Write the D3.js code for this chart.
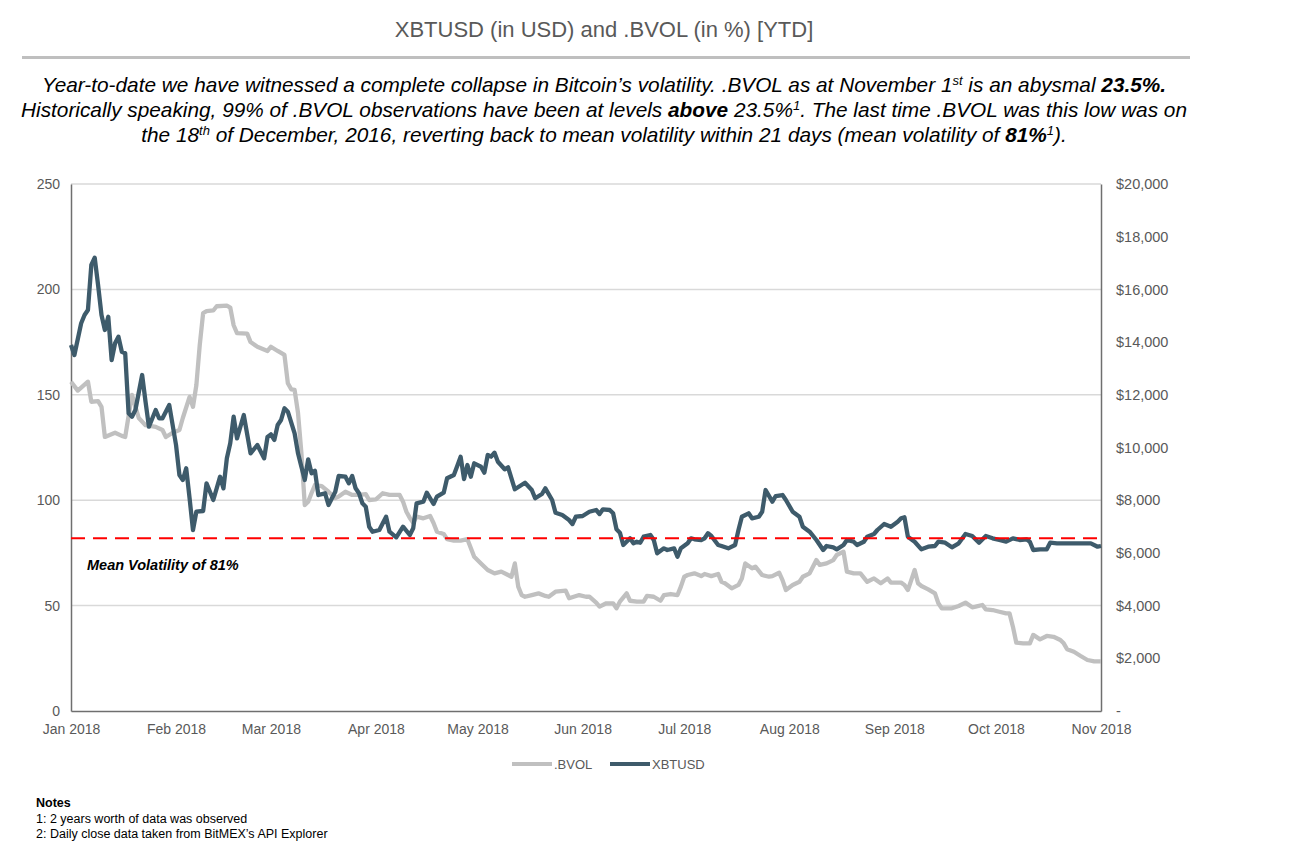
<!DOCTYPE html>
<html>
<head>
<meta charset="utf-8">
<script src="https://cdn.jsdelivr.net/npm/d3@7/dist/d3.min.js"></script>
<style>
  html, body { margin: 0; padding: 0; background: #ffffff; }
  svg { display: block; font-family: "Liberation Sans", Arial, sans-serif; }
</style>
</head>
<body>
<svg id="chart" width="1306" height="856"></svg>
<script>
// ---------------- DATA ----------------
const monthTicks = ["01-01","02-01","03-01","04-01","05-01","06-01","07-01","08-01","09-01","10-01","11-01"];
const leftTicks = [0, 50, 100, 150, 200, 250];
const rightTicks = [0, 2000, 4000, 6000, 8000, 10000, 12000, 14000, 16000, 18000, 20000];
const meanVolLevel = 82;

const bvolDates = ["01-01","01-03","01-06","01-07","01-09","01-10","01-11","01-14","01-16","01-17","01-19","01-21","01-23","01-26","01-28","01-29","01-31",
  "02-02","02-03","02-05","02-06","02-07","02-08","02-09","02-10","02-12","02-13","02-16","02-17","02-18","02-19","02-22","02-23","02-25","02-28",
  "03-01","03-03","03-05","03-06","03-07","03-08","03-09","03-10","03-11","03-12","03-13","03-14","03-16","03-18","03-20","03-21","03-23","03-25","03-27","03-29","03-30",
  "04-01","04-03","04-05","04-08","04-09","04-10","04-11","04-12","04-13","04-15","04-17","04-18","04-19","04-21","04-22","04-24","04-26","04-28","04-30",
  "05-02","05-04","05-06","05-08","05-10","05-11","05-12","05-13","05-14","05-15","05-17","05-19","05-21","05-22","05-24","05-27","05-28","05-31",
  "06-02","06-03","06-05","06-06","06-08","06-10","06-11","06-12","06-14","06-15","06-17","06-19","06-20","06-22","06-24","06-25","06-27","06-29","06-30",
  "07-01","07-02","07-04","07-06","07-07","07-09","07-11","07-12","07-13","07-15","07-17","07-18","07-19","07-21","07-22","07-24","07-26","07-27","07-29","07-30","07-31",
  "08-02","08-04","08-05","08-07","08-09","08-10","08-12","08-14","08-15","08-17","08-18","08-20","08-22","08-24","08-26","08-28","08-30","08-31",
  "09-03","09-04","09-05","09-06","09-07","09-08","09-09","09-11","09-13","09-14","09-15","09-18","09-20","09-22","09-24","09-25","09-27","09-28","09-30",
  "10-02","10-04","10-05","10-06","10-07","10-09","10-11","10-12","10-14","10-16","10-18","10-20","10-21","10-22","10-24","10-26","10-28","10-30","11-01"];
const bvolValues = [156.2,152,156.2,146.7,147,144.3,130,132,130.5,130,150,139,135.6,134.8,133.3,130,132,
  133.3,139,149,144.3,154.6,173.6,188.8,189.7,190,192,192.3,191.4,183,179.3,179,175,172.8,170.8,
  172.8,170.8,168.9,155.5,152.6,152.3,141.4,122.4,97.7,99.3,103.4,107.2,106.7,104,101,101.7,104,102.5,102.5,102.9,100.1,
  100.4,103.3,102.5,102.5,99.3,94.5,91.6,89.3,92.2,91.4,92.5,89.2,85,84,81.5,80.8,80.8,81.5,73.2,
  70,66.9,65.3,66.1,64.5,63.7,70,59,55,54.2,55,55.8,54.6,54.2,56.6,57.1,53.5,55,
  54.2,54.2,51.4,49.5,51.1,51.1,48.7,51.9,55.8,52.3,51.9,51.9,54.6,54.2,52.3,55,55.5,55,59,
  63.7,64.5,65.3,64,65,64,65,61.3,60.6,58.2,59.8,62.9,70,67.7,68.5,64.5,63.7,64,65.6,62.1,57.4,
  59.8,61.3,63.7,65.3,71.6,69.3,70,71.6,74,75.6,66.1,65.3,65.3,61.3,62.9,60.6,62.9,60.9,
  60.9,59.8,57.4,62.1,66.9,60.6,59.3,57.7,55.8,51.1,48.7,48.7,49.8,51.4,49.2,49.5,50.3,48.2,47.9,
  47.1,46.3,46.3,40,32.4,32.1,32.1,36.1,34,35.6,35.2,33.7,32.1,29.3,28.1,26.1,24.2,23.5,23.5];

const xbtDates = ["01-01","01-02","01-04","01-05","01-06","01-07","01-08","01-09","01-10","01-11","01-12","01-13","01-14","01-15","01-16","01-17","01-18","01-19","01-20","01-22","01-23","01-24","01-26","01-27","01-28","01-30",
  "02-01","02-02","02-03","02-04","02-05","02-06","02-07","02-09","02-10","02-12","02-14","02-15","02-16","02-17","02-18","02-19","02-21","02-23","02-25","02-27","02-28",
  "03-01","03-02","03-03","03-04","03-05","03-06","03-08","03-09","03-10","03-11","03-12","03-13","03-14","03-15","03-17","03-18","03-20","03-21","03-23","03-24","03-25","03-26","03-27","03-28","03-29","03-30","03-31",
  "04-02","04-04","04-05","04-07","04-09","04-11","04-12","04-13","04-15","04-16","04-18","04-19","04-21","04-22","04-24","04-25","04-26","04-27","04-28","04-29","04-30",
  "05-02","05-03","05-04","05-05","05-06","05-07","05-09","05-10","05-12","05-15","05-17","05-18","05-20","05-21","05-23","05-24","05-26","05-28","05-29","05-30",
  "06-01","06-03","06-05","06-06","06-07","06-09","06-10","06-11","06-12","06-13","06-15","06-16","06-17","06-18","06-19","06-21","06-22","06-23","06-25","06-26","06-28","06-29","06-30",
  "07-02","07-03","07-04","07-06","07-07","07-08","07-09","07-11","07-12","07-14","07-16","07-17","07-18","07-20","07-21","07-23","07-24","07-25","07-27","07-28","07-30","07-31",
  "08-02","08-04","08-05","08-07","08-09","08-11","08-12","08-14","08-15","08-17","08-18","08-20","08-21","08-23","08-24","08-26","08-27","08-29","08-31",
  "09-02","09-03","09-04","09-05","09-07","09-09","09-11","09-13","09-14","09-16","09-18","09-20","09-22","09-24","09-26","09-28","09-30",
  "10-02","10-04","10-06","10-08","10-10","10-11","10-12","10-14","10-16","10-17","10-19","10-22","10-26","10-29","10-31","11-01"];
const xbtValues = [13890,13510,14713,15028,15218,16926,17203,16160,15030,14460,14963,13320,13954,14205,13635,13575,11298,11169,11423,12751,11738,10789,11423,11108,11108,11613,
  10095,8956,8767,9210,8072,6869,7563,7590,8641,8007,8892,8451,9590,10159,11169,10349,11233,9780,10095,9590,10400,
  10500,10285,10854,11044,11488,11359,10539,9780,9271,8766,9552,9021,9120,8197,8262,7818,8322,8918,8892,8641,8918,8451,8262,7882,7753,6994,6804,
  6869,7373,6804,6592,6994,6679,6933,7882,7943,8284,7856,8133,8284,8831,8956,9298,9650,8804,9336,8892,9400,
  9271,9044,9715,9651,9803,9461,9173,9248,8413,8664,8387,8072,8235,8451,8007,7525,7438,7248,7097,7373,
  7400,7563,7628,7476,7654,7628,7503,6896,6767,6300,6554,6364,6425,6387,6615,6679,6489,5985,6174,6110,6174,5856,6174,
  6364,6554,6516,6489,6554,6744,6641,6300,6262,6174,6300,6869,7373,7503,7313,7373,7563,8387,7943,8159,8197,8007,
  7563,7373,6994,6804,6489,6110,6262,6212,6136,6300,6489,6425,6300,6425,6615,6717,6869,7097,6994,
  7184,7313,7351,6615,6425,6136,6235,6262,6425,6387,6212,6364,6717,6641,6387,6641,6554,
  6489,6425,6554,6489,6516,6425,6110,6136,6136,6387,6364,6364,6364,6364,6235,6262];

// ---------------- CHART ----------------
const parse = d3.timeParse("%Y-%m-%d");
const toDate = s => parse("2018-" + s);
const svg = d3.select("#chart");

const pLeft = 71, pRight = 1101, pTop = 184, pBottom = 711;
const x = d3.scaleTime().domain([toDate("01-01"), toDate("11-01")]).range([pLeft, pRight]);
const yL = d3.scaleLinear().domain([0, 250]).range([pBottom, pTop]);
const yR = d3.scaleLinear().domain([0, 20000]).range([pBottom, pTop]);

// Title
svg.append("text").attr("x", 604).attr("y", 37).attr("text-anchor", "middle")
  .attr("font-size", 22).attr("fill", "#595959")
  .text("XBTUSD (in USD) and .BVOL (in %) [YTD]");
svg.append("line").attr("x1", 22).attr("x2", 1190).attr("y1", 57.5).attr("y2", 57.5)
  .attr("stroke", "#bfbfbf").attr("stroke-width", 3);

// Subtitle
const sub = svg.append("g").attr("font-size", 20.8).attr("font-style", "italic").attr("fill", "#000").attr("text-anchor", "middle");
function addLine(y, parts) {
  const t = sub.append("text").attr("x", 604).attr("y", y);
  parts.forEach(p => {
    const ts = t.append("tspan").text(p.t);
    if (p.b) ts.attr("font-weight", "bold");
    if (p.sup) ts.attr("font-size", 13).attr("baseline-shift", "super");
  });
}
addLine(92, [{t:"Year-to-date we have witnessed a complete collapse in Bitcoin\u2019s volatility. .BVOL as at November 1"},{t:"st",sup:true},{t:" is an abysmal "},{t:"23.5%.",b:true}]);
addLine(117, [{t:"Historically speaking, 99% of .BVOL observations have been at levels "},{t:"above",b:true},{t:" 23.5%"},{t:"1",sup:true},{t:". The last time .BVOL was this low was on"}]);
addLine(142, [{t:"the 18"},{t:"th",sup:true},{t:" of December, 2016, reverting back to mean volatility within 21 days (mean volatility of "},{t:"81%",b:true},{t:"1",sup:true},{t:")."}]);

// Gridlines
svg.append("g").selectAll("line").data(leftTicks.filter(d => d > 0)).join("line")
  .attr("x1", pLeft).attr("x2", pRight).attr("y1", d => yL(d)).attr("y2", d => yL(d))
  .attr("stroke", "#d9d9d9").attr("stroke-width", 1.5);

// Axes
const axL = svg.append("g").attr("transform", `translate(${pLeft},0)`)
  .call(d3.axisLeft(yL).tickValues(leftTicks).tickSize(0).tickPadding(11));
const axR = svg.append("g").attr("transform", `translate(${pRight},0)`)
  .call(d3.axisRight(yR).tickValues(rightTicks).tickSize(0).tickPadding(15)
    .tickFormat(d => d === 0 ? "-" : "$" + d3.format(",")(d)));
const axB = svg.append("g").attr("transform", `translate(0,${pBottom})`)
  .call(d3.axisBottom(x).tickValues(monthTicks.map(toDate)).tickSize(0).tickPadding(13)
    .tickFormat(d3.timeFormat("%b %Y")));
[axL, axR, axB].forEach(a => {
  a.selectAll("text").attr("font-size", 14).attr("fill", "#595959").attr("font-family", "Liberation Sans, Arial, sans-serif");
  a.select(".domain").attr("stroke", "#6f6f6f").attr("stroke-width", 1.5);
});
axR.selectAll("text").attr("font-size", 14.5);

// Lines
const bvolData = bvolDates.map((d, i) => ({date: toDate(d), v: bvolValues[i]}));
const xbtData = xbtDates.map((d, i) => ({date: toDate(d), v: xbtValues[i]}));
svg.append("path").datum(bvolData)
  .attr("fill", "none").attr("stroke", "#c0c0c0").attr("stroke-width", 4.3).attr("stroke-linejoin", "round")
  .attr("d", d3.line().x(d => x(d.date)).y(d => yL(d.v)));
svg.append("path").datum(xbtData)
  .attr("fill", "none").attr("stroke", "#3e5b6b").attr("stroke-width", 4.3).attr("stroke-linejoin", "round")
  .attr("d", d3.line().x(d => x(d.date)).y(d => yR(d.v)));

// Mean volatility line
svg.append("line").attr("x1", pLeft).attr("x2", pRight).attr("y1", yL(meanVolLevel)).attr("y2", yL(meanVolLevel))
  .attr("stroke", "#ff0000").attr("stroke-width", 2).attr("stroke-dasharray", "14,8");
svg.append("text").attr("x", 87).attr("y", 570).attr("font-size", 14.5).attr("font-weight", "bold").attr("font-style", "italic")
  .attr("fill", "#000").text("Mean Volatility of 81%");

// Legend
const lg = svg.append("g").attr("font-size", 13).attr("fill", "#595959");
lg.append("line").attr("x1", 512).attr("x2", 552).attr("y1", 764).attr("y2", 764).attr("stroke", "#c0c0c0").attr("stroke-width", 4);
lg.append("text").attr("x", 554).attr("y", 768.5).text(".BVOL");
lg.append("line").attr("x1", 610).attr("x2", 650).attr("y1", 764).attr("y2", 764).attr("stroke", "#3e5b6b").attr("stroke-width", 4);
lg.append("text").attr("x", 652).attr("y", 768.5).text("XBTUSD");

// Notes
const nt = svg.append("g").attr("font-size", 12.5).attr("fill", "#000");
nt.append("text").attr("x", 36).attr("y", 807).attr("font-weight", "bold").text("Notes");
nt.append("text").attr("x", 36).attr("y", 823).text("1: 2 years worth of data was observed");
nt.append("text").attr("x", 36).attr("y", 838).text("2: Daily close data taken from BitMEX\u2019s API Explorer");
</script>
</body>
</html>
